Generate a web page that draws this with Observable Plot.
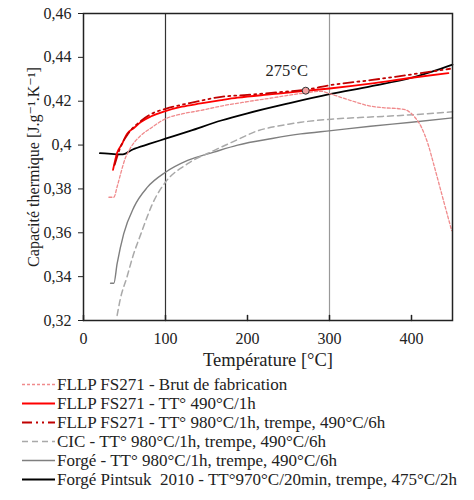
<!DOCTYPE html>
<html>
<head>
<meta charset="utf-8">
<script src="https://cdn.jsdelivr.net/npm/d3@7"></script>
<script src="https://cdn.jsdelivr.net/npm/@observablehq/plot@0.6"></script>
<style>
  body { margin: 0; background: #fff; font-family: "Liberation Serif", "DejaVu Serif", "Times New Roman", Times, serif; }
  #legende { font-size: 17px; color: #222; }
  #legende .row { display: flex; align-items: center; height: 19px; white-space: pre; }
</style>
</head>
<body>
<div id="grafico"></div>
<div id="legende"></div>
<script>
// températures (°C) et capacité thermique (J/g/K)
const brutT  = [31, 37, 41, 45, 50, 57, 70, 82, 100, 120, 143, 168, 200, 230, 265, 290, 302, 326, 347, 367, 387, 396, 404, 412, 420, 428, 439, 449]
const brutCp = [0.3762, 0.3762, 0.381, 0.3865, 0.393, 0.3985, 0.4044, 0.4077, 0.412, 0.4142, 0.4158, 0.4178, 0.4198, 0.4215, 0.4235, 0.4245, 0.4232, 0.4203, 0.418, 0.417, 0.4165, 0.4155, 0.4127, 0.4082, 0.4006, 0.39, 0.3747, 0.361]

const tt490T  = [36, 41, 47, 53, 61.5, 70, 82, 100, 120, 143, 168, 188, 230, 270, 300, 350, 400, 445]
const tt490Cp = [0.3887, 0.3965, 0.4005, 0.405, 0.4078, 0.4105, 0.413, 0.4155, 0.4175, 0.419, 0.4205, 0.4216, 0.4232, 0.4247, 0.4258, 0.428, 0.4307, 0.4328]

const tt980T  = [38, 45, 55, 70, 86, 100, 135, 168, 196, 235, 270, 302, 350, 400, 447]
const tt980Cp = [0.391, 0.399, 0.4055, 0.411, 0.4148, 0.4165, 0.4196, 0.422, 0.4228, 0.424, 0.4252, 0.4274, 0.4296, 0.4322, 0.4348]

const cicT  = [41, 45, 53, 60, 70, 86, 100, 127, 159, 188, 208, 250, 265, 302, 350, 387, 450]
const cicCp = [0.3223, 0.33, 0.3398, 0.349, 0.3595, 0.3747, 0.3831, 0.3915, 0.3975, 0.4025, 0.4059, 0.4095, 0.4104, 0.4118, 0.4128, 0.4135, 0.4152]

const forgeT  = [33, 37, 41, 49, 61.5, 78, 100, 127, 159, 188, 230, 265, 302, 350, 400, 450]
const forgeCp = [0.337, 0.337, 0.3459, 0.3595, 0.3717, 0.3808, 0.3876, 0.393, 0.3968, 0.4, 0.403, 0.4051, 0.4066, 0.4086, 0.4104, 0.4124]

const pintsukT  = [20, 30, 40, 48, 60, 80, 100, 130, 168, 200, 250, 300, 350, 400, 425, 450]
const pintsukCp = [0.3963, 0.3961, 0.3958, 0.3958, 0.398, 0.4005, 0.4029, 0.4065, 0.4112, 0.4145, 0.419, 0.4232, 0.4268, 0.4307, 0.4335, 0.4367]

const pointT = [271]
const pointCp = [0.4248]
const pointLabel = ['275°C']

const xTicks = [0, 100, 200, 300, 400]
const yTicks = [0.32, 0.34, 0.36, 0.38, 0.4, 0.42, 0.44, 0.46]

const police = '"Liberation Serif", "DejaVu Serif", "Times New Roman", Times, serif'

// séries : nom, données, style
const series = [
  { nom: 'Forgé - TT° 980°C/1h, trempe, 490°C/6h', T: forgeT, cp: forgeCp, stroke: '#7f7f7f', dash: null, w: 1.4, ordre: 5 },
  { nom: 'CIC - TT° 980°C/1h, trempe, 490°C/6h', T: cicT, cp: cicCp, stroke: '#a9a9a9', dash: '6,4', w: 1.5, ordre: 4 },
  { nom: 'Forgé Pintsuk  2010 - TT°970°C/20min, trempe, 475°C/2h', T: pintsukT, cp: pintsukCp, stroke: '#000000', dash: null, w: 1.8, ordre: 6 },
  { nom: 'FLLP FS271 - Brut de fabrication', T: brutT, cp: brutCp, stroke: '#f08a8c', dash: '3,2', w: 1.3, ordre: 1 },
  { nom: 'FLLP FS271 - TT° 490°C/1h', T: tt490T, cp: tt490Cp, stroke: '#ff0000', dash: null, w: 1.8, ordre: 2 },
  { nom: 'FLLP FS271 - TT° 980°C/1h, trempe, 490°C/6h', T: tt980T, cp: tt980Cp, stroke: '#c00000', dash: '10,4,2,4,2,4', w: 1.8, ordre: 3 },
]

const formatVirgule = d => String(d).replace('.', ',')

// petit trait vers le haut pour les ticks de l'axe x
const tickHaut = { draw(ctx, l) { ctx.moveTo(0, 0); ctx.lineTo(0, -l) } }

const lignes = series.map(s =>
  Plot.line(s.T.map((t, i) => ({ t, cp: s.cp[i] })), {
    x: 't',
    y: 'cp',
    stroke: s.stroke,
    strokeWidth: s.w,
    strokeDasharray: s.dash,
    curve: 'monotone-x',
  }),
)

let chart = Plot.plot({
  width: 474,
  height: 375,
  marginLeft: 83,
  marginRight: 22,
  marginTop: 13,
  marginBottom: 55,
  style: { fontFamily: police, fontSize: '16px', color: '#222' },
  x: { domain: [0, 450] },
  y: { domain: [0.32, 0.46] },
  marks: [
    Plot.ruleX([100], { stroke: '#333', strokeWidth: 1.2 }),
    Plot.ruleX([300], { stroke: '#999', strokeWidth: 1.2 }),
    ...lignes,
    Plot.dot(pointT.map((t, i) => ({ t, cp: pointCp[i] })), { x: 't', y: 'cp', r: 3.5, fill: '#f0a0a0', stroke: '#333', strokeWidth: 1 }),
    Plot.text(pointT.map((t, i) => ({ t, cp: pointCp[i], txt: pointLabel[i] })), { x: 't', y: 'cp', text: 'txt', dx: -19, dy: -20, fontSize: 16.5, fontFamily: police }),
    Plot.frame({ stroke: '#222', strokeWidth: 1.5 }),
    Plot.axisY({ ticks: yTicks, tickFormat: formatVirgule, tickSize: 5, tickPadding: 7, label: null, fontSize: 16, fontFamily: police }),
    Plot.axisX({ ticks: xTicks, tickSize: 0, tickPadding: 12, label: null, fontSize: 16, fontFamily: police }),
    Plot.vector(xTicks, { x: d => d, frameAnchor: 'bottom', length: 5, anchor: 'start', shape: tickHaut, stroke: '#222' }),
    Plot.text(['Température [°C]'], { frameAnchor: 'bottom', dy: 45, fontSize: 18.5, fontFamily: police }),
    Plot.text(['Capacité thermique [J.g⁻¹.K⁻¹]'], { frameAnchor: 'left', textAnchor: 'middle', dx: -50, rotate: -90, fontSize: 16, fontFamily: police }),
  ],
})
d3.select('#grafico').append(() => chart)

// légende en dessous
const ordreLegende = series.slice().sort((a, b) => a.ordre - b.ordre)
const leg = d3.select('#legende')
ordreLegende.forEach(s => {
  const row = leg.append('div').attr('class', 'row')
  const svg = row.append('svg').attr('width', 57).attr('height', 19)
  svg.append('line')
    .attr('x1', 22).attr('x2', 55).attr('y1', 9.5).attr('y2', 9.5)
    .attr('stroke', s.stroke)
    .attr('stroke-width', s.w)
    .attr('stroke-dasharray', s.dash)
  row.append('span').text(s.nom)
})
</script>
</body>
</html>
